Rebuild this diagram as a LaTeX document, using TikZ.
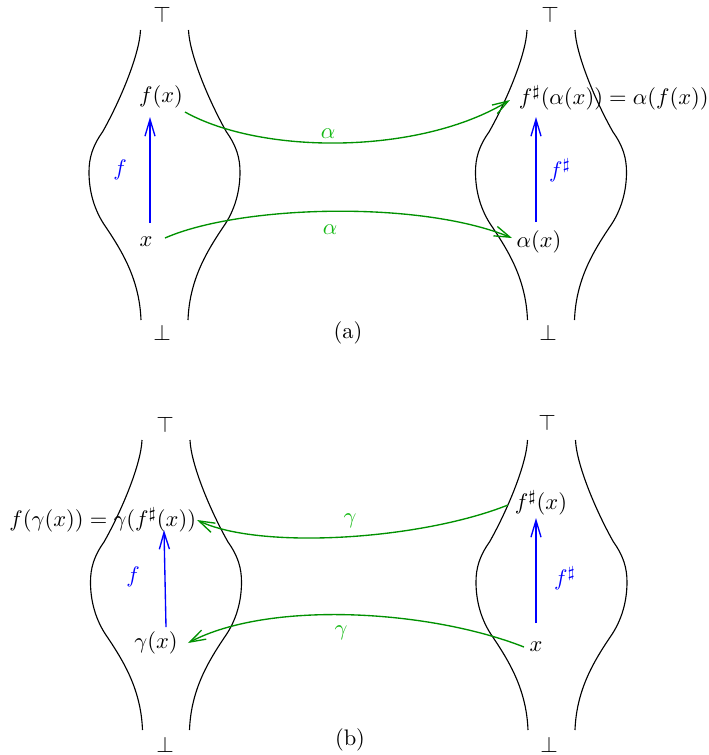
\documentclass[tikz,border=0pt]{standalone}
\usetikzlibrary{arrows.meta}
\definecolor{grn}{RGB}{0,145,0}
\definecolor{lgrn}{RGB}{20,185,20}
\newcommand\mylattice[2]{%
\begin{scope}[shift={(#1,#2)}]
 \draw[curve] (-24,0) .. controls (-25,25) and (-45,72) .. (-62,102) .. controls (-72,116) and (-75.5,128) .. (-75.5,142) .. controls (-75.5,160) and (-71,180) .. (-58,198) .. controls (-42,222) and (-25,250) .. (-23.5,290);
 \draw[curve] (24,0) .. controls (25,25) and (45,72) .. (62,102) .. controls (72,116) and (75.5,128) .. (75.5,142) .. controls (75.5,160) and (71,180) .. (58,198) .. controls (42,222) and (25,250) .. (23.5,290);
\end{scope}}
\begin{document}
\begin{tikzpicture}[x=0.445pt,y=-0.445pt,
  curve/.style={line width=0.5pt},
  fmap/.style={blue,line width=0.6pt,-{Straight Barb[length=7.5pt,width=4.5pt]}},
  amap/.style={grn,line width=0.6pt,-{Straight Barb[length=7pt,width=4.5pt]}},
  flab/.style={blue},
  alab/.style={lgrn},
  every node/.style={inner sep=2pt}]
\useasboundingbox (0,0) rectangle (709,755);

% lattices
\mylattice{164.5}{30}
\mylattice{551}{30}
\mylattice{166}{440}
\mylattice{551.5}{440}

% top / bottom
\node (ta1) at (162,15) {$\top$};
\node (ba1) at (162,333) {$\bot$};
\node (ta2) at (550,15) {$\top$};
\node (ba2) at (548,333) {$\bot$};
\node (tb1) at (165,425) {$\top$};
\node (bb1) at (165,745) {$\bot$};
\node (tb2) at (547,423) {$\top$};
\node (bb2) at (549,745) {$\bot$};

% captions
\node (capa) at (348,333) {(a)};
\node (capb) at (350,740) {(b)};

% ---------- panel (a)
\node (fxa) at (161,97) {$f(x)$};
\node (xa) at (146,242) {$x$};
\node[anchor=west] (fsa) at (514,98) {$f^\sharp(\alpha(x)) = \alpha(f(x))$};
\node (axa) at (539,242) {$\alpha(x)$};

\coordinate (fa1) at (150,223);
\coordinate (fa2) at (150,117);
\draw[fmap] (fa1) -- (fa2);
\node[flab] (lfa) at (120,170) {$f$};

\coordinate (fsa1) at (536,222);
\coordinate (fsa2) at (536,117);
\draw[fmap] (fsa1) -- (fsa2);
\node[flab] (lfsa) at (560,170) {$f^\sharp$};

\coordinate (aa1) at (185,112);
\coordinate (aa2) at (510,100);
\draw[amap] (aa1) .. controls (262,155) and (420,155) .. (aa2);
\node[alab] (laa1) at (328,134) {$\alpha$};

\coordinate (ab1) at (165,238);
\coordinate (ab2) at (512,238);
\draw[amap] (ab1) .. controls (240,205) and (420,200) .. (ab2);
\node[alab] (laa2) at (330,230) {$\alpha$};

% ---------- panel (b)
\node[anchor=east] (fgb) at (201,520) {$f(\gamma(x)) = \gamma(f^\sharp(x))$};
\node (gxb) at (156,643) {$\gamma(x)$};
\node (fsxb) at (541,503) {$f^\sharp(x)$};
\node (xb) at (536,647) {$x$};

\coordinate (fb1) at (166,627);
\coordinate (fb2) at (164,530);
\draw[fmap] (fb1) -- (fb2);
\node[flab] (lfb) at (133,577) {$f$};

\coordinate (fsb1) at (536,623);
\coordinate (fsb2) at (536,518);
\draw[fmap] (fsb1) -- (fsb2);
\node[flab] (lfsb) at (565,578) {$f^\sharp$};

\coordinate (ga1) at (508,505);
\coordinate (ga2) at (197,520);
\draw[amap] (ga1) .. controls (420,540) and (260,550) .. (ga2);
\node[alab] (lga) at (350,521) {$\gamma$};

\coordinate (gb1) at (524,647);
\coordinate (gb2) at (188,643);
\draw[amap] (gb1) .. controls (430,610) and (270,600) .. (gb2);
\node[alab] (lgb) at (341,633) {$\gamma$};
\end{tikzpicture}
\end{document}
